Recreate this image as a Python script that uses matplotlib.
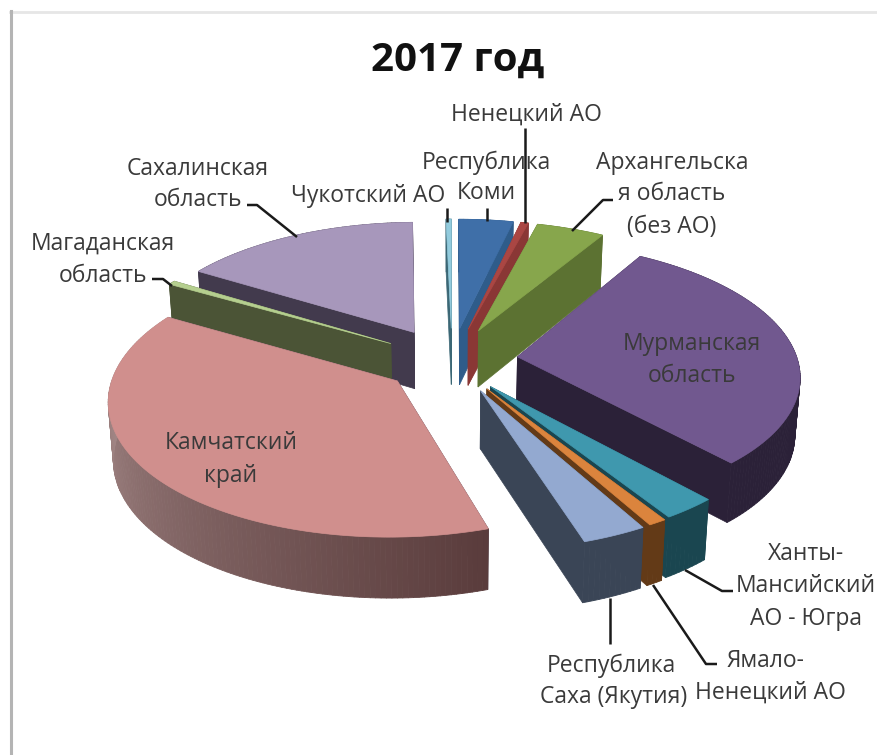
import numpy as np
import matplotlib
matplotlib.use("Agg")
import matplotlib.pyplot as plt
from matplotlib.colors import to_rgb
from matplotlib.collections import PolyCollection

plt.rcParams["font.family"] = ["Open Sans", "Noto Sans", "DejaVu Sans"]

# shares in percent, clockwise from 12 o'clock
regions = ["Республика Коми", "Ненецкий АО", "Архангельская область (без АО)",
           "Мурманская область", "Ханты-Мансийский АО - Югра", "Ямало-Ненецкий АО",
           "Республика Саха (Якутия)", "Камчатский край", "Магаданская область",
           "Сахалинская область", "Чукотский АО"]
shares = [3.6, 0.5, 4.5, 29.7, 2.7, 0.9, 3.2, 38.2, 0.5, 15.85, 0.35]
top_colors = ["#3f6fa8", "#aa4643", "#87a64c", "#71588f", "#3f98ae", "#db843d",
              "#93a9d0", "#d08f8d", "#b5cf8f", "#a797bb", "#92cbdd"]
wall_colors = ["#2f5c8a", "#8a3735", "#5c7232", "#2b2138", "#1a4650", "#633a17",
               "#3a4556", "#423a4d", "#4b5436", "#423a4d", "#3b6775"]
# outer wall shading of the large slices (start of arc, end of arc)
arc_shades = {7: ("#5a3c3c", "#b59a99"), 3: ("#2b2138", "#2b2138")}
# small sideways corrections in pixels
nudge_x = {0: 2, 1: 2, 2: 2, 3: -2, 4: -3, 6: 2, 7: 3, 9: -2, 10: 2}
draw_order = [10, 0, 1, 2, 9, 8, 3, 4, 5, 6, 7]

CX, CY = 450, 360
RX, RY = 280, 130.6
PERSP = 0.127
EXPLODE = 0.25


def project(u, v, z=0.0):
    s = 1 / (1 + PERSP * v)
    x = CX + RX * u * s
    y = CY - RY * v * s
    if z:
        x = CX + (x - CX) * 0.985
        y = y + z * (1 - 0.06 * v)
    return x, y


def mix(c0, c1, t):
    a, b = np.array(to_rgb(c0)), np.array(to_rgb(c1))
    return tuple(a + (b - a) * t)


fig = plt.figure(figsize=(8.78, 7.55), dpi=100)
ax = fig.add_axes([0, 0, 1, 1])
ax.set_xlim(0, 878)
ax.set_ylim(755, 0)
ax.axis("off")

# frame of the pasted picture
ax.plot([10, 878], [11.5, 11.5], color="#e6e6e6", lw=2)
ax.plot([11, 11], [11, 755], color="#b4b4b4", lw=2.2)

edges = np.radians(np.cumsum([0] + shares) / sum(shares) * 360)
DEPTH = 57

for i in draw_order:
    a0, a1 = edges[i], edges[i + 1]
    mid = (a0 + a1) / 2
    ox, oy = EXPLODE * np.sin(mid), EXPLODE * np.cos(mid)
    th = np.linspace(a0, a1, max(int((a1 - a0) * 60), 4))
    us = ox + np.sin(th)
    vs = oy + np.cos(th)
    n = nudge_x.get(i, 0)
    top = [(p[0] + n, p[1]) for p in (project(u, v) for u, v in zip(us, vs))]
    bot = [(p[0] + n, p[1]) for p in (project(u, v, DEPTH) for u, v in zip(us, vs))]
    apex = project(ox, oy)
    apex = (apex[0] + n, apex[1])
    apex_b = project(ox, oy, DEPTH)
    apex_b = (apex_b[0] + n, apex_b[1])

    # radial walls
    ax.fill(*zip(apex, top[0], bot[0], apex_b), color=wall_colors[i], lw=0.5)
    ax.fill(*zip(apex, top[-1], bot[-1], apex_b), color=wall_colors[i], lw=0.5)

    # outer wall, in strips so that it can carry a gradient
    c0, c1 = arc_shades.get(i, (wall_colors[i], wall_colors[i]))
    quads = [[top[k], top[k + 1], bot[k + 1], bot[k]] for k in range(len(th) - 1)]
    cols = [mix(c0, c1, k / max(len(quads) - 1, 1)) for k in range(len(quads))]
    ax.add_collection(PolyCollection(quads, facecolors=cols, edgecolors=cols, linewidths=0.6))

    ax.fill(*zip(apex, *top), color=top_colors[i], lw=0.5)

# leader lines
leaders = [
    ([525.5, 525.5], [128, 223]),
    ([487, 487], [208, 221]),
    ([447, 447], [208, 222]),
    ([572, 603, 613], [231, 200, 200]),
    ([247, 257, 297], [205, 205, 237]),
    ([152, 163, 172], [279, 279, 286]),
    ([685, 722, 733], [570, 591, 591]),
    ([653, 706, 717], [585, 664, 664]),
    ([610, 610], [598, 644]),
]
for xs, ys in leaders:
    ax.plot(xs, ys, color="#1a1a1a", lw=1.8, solid_capstyle="butt")

TXT = "#3a3a3a"
FS = 16.5
labels = [
    (526, 115, "Ненецкий АО"),
    (486, 163, "Республика"),
    (486, 193, "Коми"),
    (672, 163, "Архангельска"),
    (672, 194, "я область"),
    (672, 227, "(без АО)"),
    (198, 169, "Сахалинская"),
    (198, 200, "область"),
    (368, 196, "Чукотский АО"),
    (103, 244, "Магаданская"),
    (103, 276, "область"),
    (692, 344, "Мурманская"),
    (692, 376, "область"),
    (231, 443, "Камчатский"),
    (231, 476, "край"),
    (806, 554, "Ханты-"),
    (806, 586, "Мансийский"),
    (806, 619, "АО - Югра"),
    (611, 666, "Республика"),
    (614, 697, "Саха (Якутия)"),
    (765, 661, "Ямало-"),
    (770, 693, "Ненецкий АО"),
]
for x, y, s in labels:
    ax.text(x, y, s, ha="center", va="center", fontsize=FS, color=TXT)

ax.text(458, 60, "2017 год", ha="center", va="center", fontsize=29, fontweight="bold", color="#111111")

fig.savefig("out.png", dpi=100)
